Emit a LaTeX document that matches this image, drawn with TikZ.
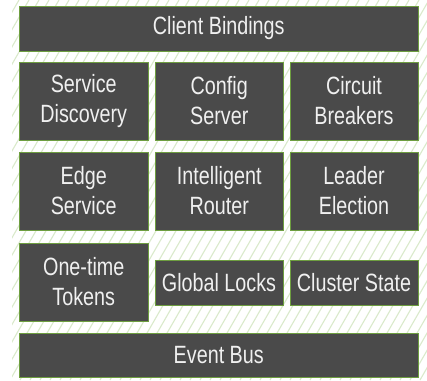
\documentclass[tikz,border=0pt]{standalone}
\usepackage{fontspec}
\setmainfont{Liberation Sans}[FakeStretch=0.79]
\definecolor{boxfill}{HTML}{4A4A4A}
\definecolor{boxedge}{HTML}{6E9E40}
\definecolor{hatchc}{HTML}{DAEACB}
\definecolor{txt}{HTML}{F0F0F0}
\tikzset{
  blk/.style={draw=boxedge, line width=1pt, fill=boxfill, text=txt, align=center,
    font=\fontsize{25}{30}\selectfont, inner sep=0pt},
  hatchline/.style={draw=hatchc, line width=1.1pt}
}
\begin{document}
\begin{tikzpicture}[x=1pt,y=-1pt]
\useasboundingbox (0,0) rectangle (427,380);
\fill[white] (0,0) rectangle (427,380);
\begin{scope}
  \clip (12,0) rectangle (427,380);
  \foreach \i in {-25,...,45} \draw[hatchline] (\i*10,380) -- (\i*10+219,0);
\end{scope}
\node[blk, minimum width=398.5pt, minimum height=45pt] (cb) at (218.75,28.5) {Client Bindings};
\node[blk, minimum width=128.5pt, minimum height=78pt] (sd) at (83.75,101) {Service\\Discovery};
\node[blk, minimum width=127.5pt, minimum height=78pt] (cs) at (219.25,101) {Config\\Server};
\node[blk, minimum width=128pt, minimum height=78pt] (cbr) at (354,101) {Circuit\\Breakers};
\node[blk, minimum width=128.5pt, minimum height=78pt] (es) at (83.75,191) {Edge\\Service};
\node[blk, minimum width=127.5pt, minimum height=78pt] (ir) at (219.25,191) {Intelligent\\Router};
\node[blk, minimum width=128pt, minimum height=78pt] (le) at (354,191) {Leader\\Election};
\node[blk, minimum width=128.5pt, minimum height=78pt] (ot) at (83.75,282) {One-time\\Tokens};
\node[blk, minimum width=128pt, minimum height=45.5pt] (gl) at (219,282.75) {Global Locks};
\node[blk, minimum width=128pt, minimum height=45.5pt] (cst) at (354,282.75) {Cluster State};
\node[blk, minimum width=398.5pt, minimum height=44pt] (eb) at (218.75,355) {Event Bus};
\end{tikzpicture}
\end{document}
